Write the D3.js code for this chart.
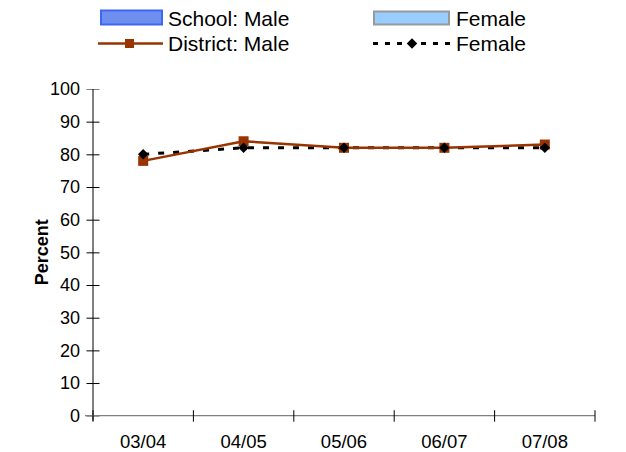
<!DOCTYPE html>
<html>
<head>
<meta charset="utf-8">
<script src="https://cdn.jsdelivr.net/npm/d3@7"></script>
<style>
  html, body { margin: 0; padding: 0; background: #fff; }
  svg { display: block; font-family: "Liberation Sans", Arial, sans-serif; }
</style>
</head>
<body>
<svg id="chart" width="626" height="452"></svg>
<script>
const categories = ["03/04", "04/05", "05/06", "06/07", "07/08"];
const schoolMale = [null, null, null, null, null];
const schoolFemale = [null, null, null, null, null];
const districtMale = [78, 84, 82, 82, 83];
const districtFemale = [80, 82, 82, 82, 82];
const yTicks = [0, 10, 20, 30, 40, 50, 60, 70, 80, 90, 100];

(function () {
const svg = d3.select("#chart");
const pL = 93, pR = 595, pT = 89, pB = 415.7;

const x = d3.scaleBand().domain(categories).range([pL, pR]).padding(0);
const y = d3.scaleLinear().domain([0, 100]).range([pB, pT]);

// School bars (no data present)
const xb = d3.scaleBand().domain(["m", "f"]).range([0, x.bandwidth()]).paddingInner(0).paddingOuter(0.5);
categories.forEach((c, i) => {
  [["m", schoolMale[i], "#6f8ff0", "#3f66f0"], ["f", schoolFemale[i], "#99ccff", "#999999"]].forEach(([k, v, fill, stroke]) => {
    if (v == null) return;
    svg.append("rect").attr("x", x(c) + xb(k)).attr("width", xb.bandwidth())
      .attr("y", y(v)).attr("height", y(0) - y(v)).attr("fill", fill).attr("stroke", stroke);
  });
});

// Y axis
const yAxis = svg.append("g").attr("transform", `translate(${pL},0)`)
  .call(d3.axisLeft(y).tickValues(yTicks).tickSize(6).tickPadding(8).tickSizeOuter(0));
yAxis.select(".domain").remove();
yAxis.selectAll(".tick line").attr("x1", -6.5).attr("x2", 6.5)
  .attr("stroke", d => (d === 100 || d === 0) ? "#808080" : "#000");
yAxis.selectAll(".tick text").attr("font-size", 18).attr("fill", "#000")
  .attr("font-family", "Liberation Sans, Arial, sans-serif").attr("x", -13);
svg.append("line").attr("x1", pL).attr("x2", pL).attr("y1", pT).attr("y2", pB + 5)
  .attr("stroke", "#000").attr("stroke-width", 1);

// X axis
svg.append("line").attr("x1", pL - 8).attr("x2", pR).attr("y1", pB).attr("y2", pB)
  .attr("stroke", "#808080").attr("stroke-width", 1.2);
const xTickPos = categories.map(c => x(c)).concat([x(categories[categories.length - 1]) + x.bandwidth()]);
svg.selectAll(".xt").data(xTickPos).enter().append("line")
  .attr("x1", d => d).attr("x2", d => d).attr("y1", pB - 5.5).attr("y2", pB + 6)
  .attr("stroke", "#000").attr("stroke-width", 1);
svg.selectAll(".xl").data(categories).enter().append("text")
  .attr("x", d => x(d) + x.bandwidth() / 2).attr("y", 448)
  .attr("text-anchor", "middle").attr("font-size", 18.5).attr("fill", "#000").text(d => d);

// Y title
svg.append("text").attr("transform", `translate(48,${(pT + pB) / 2}) rotate(-90)`)
  .attr("text-anchor", "middle").attr("font-size", 18).attr("font-weight", "bold").text("Percent");

const cx = c => x(c) + x.bandwidth() / 2;

const lineF = d3.line().x((d, i) => cx(categories[i])).y(d => y(d));
// District Female (dashed black)
svg.append("path").datum(districtFemale).attr("d", lineF).attr("fill", "none")
  .attr("stroke", "#000").attr("stroke-width", 3).attr("stroke-dasharray", "6,9");

// District Male (brown)
svg.append("path").datum(districtMale).attr("d", lineF).attr("fill", "none")
  .attr("stroke", "#993300").attr("stroke-width", 2.5);
svg.selectAll(".sq").data(districtMale).enter().append("rect")
  .attr("x", (d, i) => cx(categories[i]) - 5).attr("y", d => y(d) - 5)
  .attr("width", 10).attr("height", 10).attr("fill", "#993300");

// Female diamonds
const diamond = d3.symbol().type(d3.symbolDiamond2).size(70);
svg.selectAll(".dm").data(districtFemale).enter().append("path")
  .attr("d", diamond).attr("transform", (d, i) => `translate(${cx(categories[i])},${y(d)})`)
  .attr("fill", "#000");

// Legend
const lg = svg.append("g");
lg.append("rect").attr("x", 101).attr("y", 10.5).attr("width", 61).attr("height", 14)
  .attr("fill", "#6f8ff0").attr("stroke", "#3f66f0").attr("stroke-width", 2);
lg.append("text").attr("x", 168).attr("y", 26).attr("font-size", 21).text("School: Male");
lg.append("rect").attr("x", 374).attr("y", 11.5).attr("width", 75).attr("height", 13)
  .attr("fill", "#99ccff").attr("stroke", "#999999").attr("stroke-width", 2);
lg.append("text").attr("x", 456).attr("y", 26).attr("font-size", 21).text("Female");

lg.append("line").attr("x1", 98).attr("x2", 163).attr("y1", 43.5).attr("y2", 43.5)
  .attr("stroke", "#993300").attr("stroke-width", 2.5);
lg.append("rect").attr("x", 125).attr("y", 39).attr("width", 9).attr("height", 9).attr("fill", "#993300");
lg.append("text").attr("x", 168).attr("y", 51).attr("font-size", 21).text("District: Male");

lg.append("line").attr("x1", 373).attr("x2", 450).attr("y1", 43.5).attr("y2", 43.5)
  .attr("stroke", "#000").attr("stroke-width", 3).attr("stroke-dasharray", "5,7");
lg.append("path").attr("d", diamond).attr("transform", "translate(412,43.5)").attr("fill", "#000");
lg.append("text").attr("x", 456).attr("y", 51).attr("font-size", 21).text("Female");
})();
</script>
</body>
</html>
